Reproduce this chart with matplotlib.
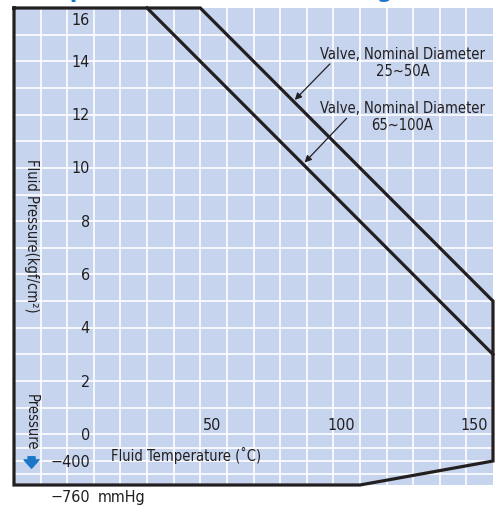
import matplotlib
matplotlib.use('Agg')
import matplotlib.pyplot as plt

# rating lines: (temperature C, pressure kgf/cm2)
temps_25_50 = [40, 150]
press_25_50 = [16, 5]
temps_65_100 = [20, 150]
press_65_100 = [16, 3]

# vacuum limit (temperature C, mmHg)
vac_temps = [150, 100, -30]
vac_mmhg = [-400, -760, -760]

x_ticks = [50, 100, 150]
y_ticks = [16, 14, 12, 10, 8, 6, 4, 2, 0]
vac_ticks = [-400]

label_25_50 = 'Valve, Nominal Diameter\n25~50A'
label_65_100 = 'Valve, Nominal Diameter\n65~100A'

MMHG = 1 / 400.0   # 400 mmHg drawn as one grid step below zero
T_MIN, T_MAX = -30, 150
P_TOP = 16

BG = '#c6d4ee'
INK = '#231f20'
BLUE = '#1b76c8'
FONT = dict(family=['DejaVu Sans'], fontstretch='condensed', fontsize=10.5, color=INK)
NUM = dict(FONT, fontsize=11.5)

fig = plt.figure(figsize=(4.99, 5.10), dpi=100)
ax = fig.add_axes([14 / 499, 24 / 510, 479 / 499, 477 / 510])
ax.set_facecolor(BG)
ax.set_xlim(T_MIN, T_MAX)
y_bottom = min(vac_mmhg) * MMHG
ax.set_ylim(y_bottom, P_TOP)
for s in ax.spines.values():
    s.set_visible(False)
ax.set_xticks([])
ax.set_yticks([])

# white grid
for t in range(-20, 150, 10):
    ax.axvline(t, color='white', lw=1.2, zorder=1)
for p in range(0, 16):
    ax.axhline(p, color='white', lw=1.2, zorder=1)
for m in [-200, -400, -600]:
    ax.axhline(m * MMHG, color='white', lw=1.2, zorder=1)

# outline of the allowed region
vac_y = [m * MMHG for m in vac_mmhg]
bx = [T_MIN, temps_25_50[0]] + temps_25_50[1:] + vac_temps + [T_MIN]
by = [P_TOP, press_25_50[0]] + press_25_50[1:] + vac_y + [P_TOP]
ax.plot(bx, by, color=INK, lw=2.3, solid_joinstyle='miter', clip_on=False, zorder=3)
ax.plot(temps_65_100, press_65_100, color=INK, lw=2.3, clip_on=False, zorder=3)

# tick labels drawn inside the chart
for p in y_ticks:
    yy = p - 0.45 if p == P_TOP else p
    ax.text(-1.5, yy, str(p), ha='right', va='center', **NUM)
for m in vac_ticks:
    ax.text(-1.5, m * MMHG, '\u2212' + str(abs(m)), ha='right', va='center', **NUM)
for t in x_ticks:
    ax.text(t - 2, 0.38, str(t), ha='right', va='center', **NUM)

ax.text(-1.5, -2.33, '\u2212760', ha='right', va='center', clip_on=False, **NUM)
ax.text(1.5, -2.33, 'mmHg', ha='left', va='center', clip_on=False, **NUM)

ax.text(6.4, -0.75, 'Fluid Temperature (\u02daC)', ha='left', va='center', **FONT)
ax.text(-23.4, 7.5, 'Fluid Pressure(kgf/cm\u00b2)', rotation=270, ha='center', va='center',
        **FONT)
ax.text(-23.4, 0.49, 'Pressure', rotation=270, ha='center', va='center', **FONT)
ax.annotate('', xy=(-23.4, -1.27), xytext=(-23.4, -0.84),
            arrowprops=dict(arrowstyle='simple,head_length=0.5,head_width=0.9,tail_width=0.42',
                            color=BLUE, mutation_scale=12, shrinkA=0, shrinkB=0))

# callouts
ax.text(116, 13.96, label_25_50, ha='center', va='center', linespacing=1.15, **FONT)
ax.annotate('', xy=(75.5, 12.55), xytext=(88.7, 13.9),
            arrowprops=dict(arrowstyle='-|>', color=INK, lw=0.9, mutation_scale=10,
                            shrinkA=0, shrinkB=0))
ax.text(116, 11.95, label_65_100, ha='center', va='center', linespacing=1.15, **FONT)
ax.annotate('', xy=(79.2, 10.2), xytext=(95, 11.86),
            arrowprops=dict(arrowstyle='-|>', color=INK, lw=0.9, mutation_scale=10,
                            shrinkA=0, shrinkB=0))

# title, mostly cut off by the top edge
fig.text(19 / 499, 1 + 3.5 / 510, 'Temperature-Pressure Rating', ha='left', va='baseline',
         fontsize=18, fontweight='bold', family=['DejaVu Sans'], fontstretch='condensed',
         color=BLUE)

fig.savefig('out.png', dpi=100)
